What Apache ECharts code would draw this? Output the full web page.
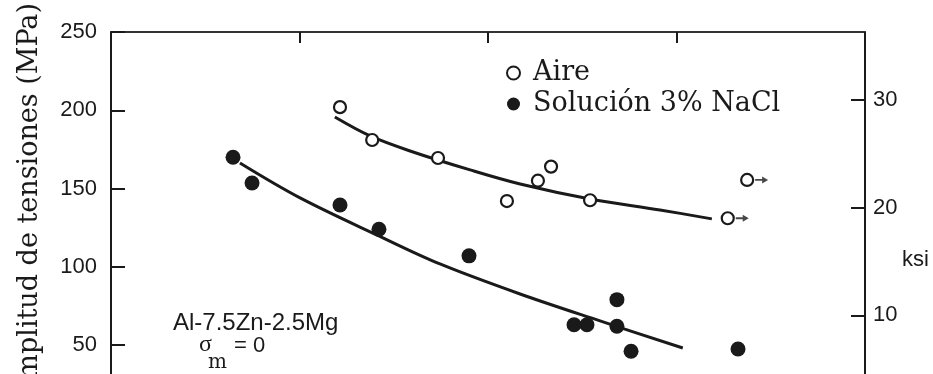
<!DOCTYPE html>
<html><head><meta charset="utf-8">
<script src="https://cdn.jsdelivr.net/npm/echarts@6/dist/echarts.min.js"></script>
<style>html,body{margin:0;padding:0;background:#fff}#c{width:933px;height:374px}</style>
</head><body><div id="c"></div>
<script>
// ---- data (cycles N on log axis, stress amplitude in MPa) ----
const MPA_PER_KSI = 6.895;
const stressMin = 0, stressMax = 250, stressStep = 50;   // MPa tick labels 0..250
const ksiStep = 10;                                       // ksi tick labels 10,20,30
const cyclesMin = 1e4, cyclesMax = 1e8;

const seriesNames = ['Aire', 'Solución 3% NaCl'];

const aireCycles = [1.64e5, 2.43e5, 5.43e5, 1.26e6, 1.84e6, 2.16e6, 3.48e6];
const aireStress = [202, 181, 169.5, 142, 155, 164, 142.5];

const aireRunoutCycles = [1.87e7, 2.37e7];
const aireRunoutStress = [131, 155.5];

const naclCycles = [4.44e4, 5.6e4, 1.64e5, 2.64e5, 7.93e5, 2.86e6, 3.35e6, 4.83e6, 4.83e6, 5.74e6, 2.12e7];
const naclStress = [170, 153.5, 139.5, 124, 107, 63, 63, 79, 62, 46, 47.5];

const aireFitCycles = [1.54e5, 2.37e5, 3.86e5, 8.04e5, 1.48e6, 3.48e6, 8.17e6, 1.54e7];
const aireFitStress = [195.7, 183.6, 174.0, 161.9, 152.9, 143.3, 136.3, 130.6];

const naclFitCycles = [4.83e4, 1.007e5, 2.67e5, 5.56e5, 1.48e6, 3.93e6, 1.08e7];
const naclFitStress = [166.3, 144, 119.4, 101.8, 82.6, 65.4, 48.1];

const zip = (a, b) => a.map((v, i) => [v, b[i]]);

const INK = '#1a1a1a';
const sans = '"Liberation Sans", Arial, sans-serif';
const serif = '"DejaVu Serif", serif';
const arrowPath = 'path://M0,2.6 L7,2.6 L7,0 L13,3.5 L7,7 L7,4.4 L0,4.4 Z';

const chart = echarts.init(document.getElementById('c'), null, {renderer: 'canvas'});
chart.setOption({
  animation: false,
  backgroundColor: '#fff',
  grid: {left: 111, top: 32, width: 754, height: 391.3, containLabel: false, outerBoundsMode: 'none'},
  legend: {
    data: seriesNames,
    orient: 'vertical',
    left: 501, top: 53,
    itemWidth: 13, itemHeight: 13, itemGap: 1,
    textStyle: {fontFamily: serif, fontSize: 27, color: INK, lineHeight: 30, padding: [0, 0, 0, 8]}
  },
  xAxis: [
    {
      type: 'log', logBase: 10, min: cyclesMin, max: cyclesMax, position: 'bottom',
      axisLine: {show: true, onZero: false, lineStyle: {color: INK, width: 2}},
      axisTick: {show: true, inside: true, length: 11, lineStyle: {color: INK, width: 2}},
      axisLabel: {show: false},
      splitLine: {show: false}, minorTick: {show: false}
    },
    {
      type: 'log', logBase: 10, min: cyclesMin, max: cyclesMax, position: 'top',
      axisLine: {show: true, onZero: false, lineStyle: {color: '#333', width: 2}},
      axisTick: {show: true, inside: true, length: 11, lineStyle: {color: INK, width: 2}},
      axisLabel: {show: false},
      splitLine: {show: false}
    }
  ],
  yAxis: [
    {
      type: 'value', min: stressMin, max: stressMax, interval: stressStep, position: 'left',
      axisLine: {show: true, onZero: false, lineStyle: {color: INK, width: 2}},
      axisTick: {show: true, inside: true, length: 14, lineStyle: {color: INK, width: 2}},
      axisLabel: {color: INK, fontFamily: sans, fontSize: 22, margin: 14},
      splitLine: {show: false}
    },
    {
      type: 'value', min: stressMin / MPA_PER_KSI, max: stressMax / MPA_PER_KSI, interval: ksiStep, position: 'right',
      axisLine: {show: true, onZero: false, lineStyle: {color: INK, width: 2}},
      axisTick: {show: true, inside: true, length: 14, lineStyle: {color: INK, width: 2}},
      axisLabel: {color: INK, fontFamily: sans, fontSize: 22, margin: 8, showMaxLabel: false,
                  formatter: v => (v > 0 && v % ksiStep === 0 ? String(v) : '')},
      splitLine: {show: false}
    }
  ],
  graphic: [
    {type: 'text', x: 30, y: 3, rotation: Math.PI / 2, z: 10,
     style: {text: 'Amplitud de tensiones (MPa)', font: '27px "DejaVu Serif"', align: 'right', verticalAlign: 'middle', fill: INK}},
    {type: 'text', x: 902, y: 260, z: 10,
     style: {text: 'ksi', font: '22px "Liberation Sans"', align: 'left', verticalAlign: 'middle', fill: INK}},
    {type: 'text', x: 173, y: 323, z: 10,
     style: {text: 'Al-7.5Zn-2.5Mg', font: '24px "Liberation Sans"', align: 'left', verticalAlign: 'middle', fill: INK}},
    {type: 'text', x: 199, y: 345, z: 10,
     style: {text: 'σ', font: '24px "Liberation Serif"', align: 'left', verticalAlign: 'middle', fill: INK}},
    {type: 'text', x: 208, y: 362.5, z: 10,
     style: {text: 'm', font: '20px "DejaVu Serif"', align: 'left', verticalAlign: 'middle', fill: INK}},
    {type: 'text', x: 234, y: 345.5, z: 10,
     style: {text: '= 0', font: '22px "Liberation Sans"', align: 'left', verticalAlign: 'middle', fill: INK}}
  ],
  series: [
    {
      name: seriesNames[0] + ' (ajuste)', type: 'line', smooth: 0.35, symbol: 'none',
      data: zip(aireFitCycles, aireFitStress), z: 2,
      lineStyle: {color: INK, width: 3}
    },
    {
      name: seriesNames[1] + ' (ajuste)', type: 'line', smooth: 0.35, symbol: 'none',
      data: zip(naclFitCycles, naclFitStress), z: 2,
      lineStyle: {color: INK, width: 3}
    },
    {
      name: seriesNames[0], type: 'scatter', symbol: 'circle', symbolSize: 12, z: 5,
      data: zip(aireCycles, aireStress).concat(zip(aireRunoutCycles, aireRunoutStress)),
      itemStyle: {color: '#fff', borderColor: INK, borderWidth: 2.2, opacity: 1}
    },
    {
      name: seriesNames[0] + ' runout', type: 'scatter', symbol: arrowPath, symbolSize: [13, 7],
      symbolOffset: [14.5, 0], z: 5, xAxisIndex: 1,
      data: zip(aireRunoutCycles, aireRunoutStress),
      itemStyle: {color: INK}
    },
    {
      name: seriesNames[1], type: 'scatter', symbol: 'circle', symbolSize: 15, z: 5,
      data: zip(naclCycles, naclStress),
      itemStyle: {color: INK, opacity: 1}
    }
  ]
});
</script>
</body></html>
